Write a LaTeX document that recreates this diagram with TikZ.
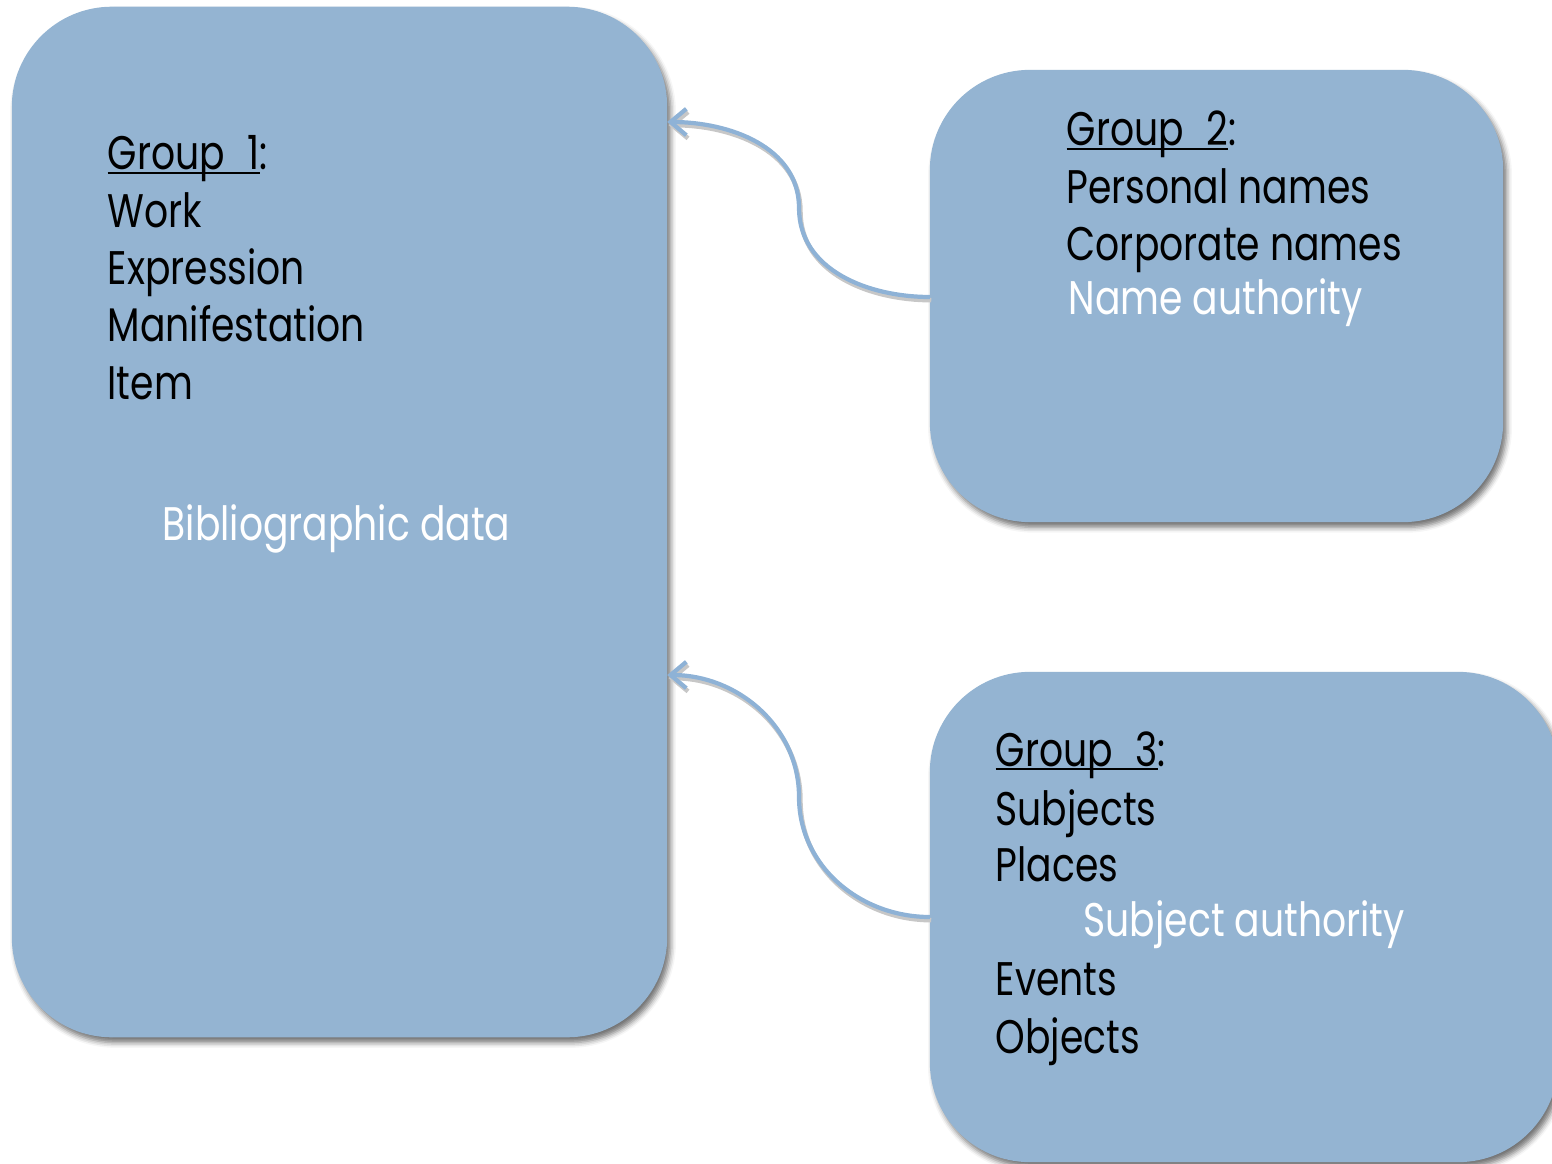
\documentclass[tikz,border=0pt]{standalone}
\usepackage{fontspec}
\setmainfont[FakeStretch=0.8]{Poppins}
\usepackage{tikz}
\usetikzlibrary{arrows.meta, positioning, shadows.blur}
\usepackage{xcolor}
\definecolor{boxblue}{RGB}{148,180,210}
\definecolor{linkblue}{RGB}{142,178,214}
\newcommand{\grouptitle}[1]{%
	\setbox0\hbox{Group\hspace{6.5pt}#1}\rlap{\rule[-1.1pt]{\wd0}{0.6pt}}\box0:}
\tikzset{%
	group box/.style={
		rectangle,
		rounded corners=1cm,
		outer sep=0pt,
		fill=boxblue,
		blur shadow={shadow xshift=1pt, shadow yshift=-1.5pt,
			shadow blur radius=1.5pt, shadow opacity=55}
	},
	entry/.style={
		anchor=base west,
		inner sep=0pt,
		font=\fontsize{13.4}{16}\selectfont
	},
	light entry/.style={
		entry,
		text=white
	},
	link/.style={
		draw=linkblue,
		line width=1.2pt,
		preaction={draw=black!22, line width=1.3pt,
			transform canvas={xshift=0.4pt, yshift=-0.9pt}},
		-{Straight Barb[length=4.5pt,width=7.5pt]}
	},
}

\begin{document}
\begin{tikzpicture}[x=0.01cm, y=-0.01cm]
	\useasboundingbox (0,0) rectangle (1552,1164);
	% Boxes
	\node[group box, minimum width=6.55cm, minimum height=10.3cm] (bib) at (339.5,522) {};
	\node[group box, minimum width=5.73cm, minimum height=4.52cm] (names) at (1216.5,296) {};
	\node[group box, minimum width=6.28cm, minimum height=4.9cm] (subjects) at (1244,917) {};
	% Group 1
	\node[entry] (g1-title) at (107,170) {\grouptitle{1}};
	\foreach \t [count=\i] in {Work,Expression,Manifestation,Item}
	{
		\node[entry] (g1-\i) at (107,170+57.3*\i) {\t};
	}
	\node[light entry] (bibdata) at (162,540) {Bibliographic data};
	% Group 2
	\node[entry] (g2-title) at (1066,146) {\grouptitle{2}};
	\foreach \t [count=\i] in {Personal names,Corporate names}
	{
		\node[entry] (g2-\i) at (1066,147+57*\i) {\t};
	}
	\node[light entry] (nameauth) at (1068,315) {Name authority};
	% Group 3
	\node[entry] (g3-title) at (995,766) {\grouptitle{3}};
	\foreach \t/\y [count=\i] in {Subjects/825,Places/881,Events/995,Objects/1053}
	{
		\node[entry] (g3-\i) at (995,\y) {\t};
	}
	\node[light entry] (subjauth) at (1083,936) {Subject authority};
	% Links to the bibliographic data
	\draw[link] (names.west |- 0,297) to[out=180,in=-90] (799,208)
		to[out=90,in=0] (bib.east |- 0,122);
	\draw[link] (subjects.west |- 0,917) to[out=180,in=-90] (799,797)
		to[out=90,in=0] (bib.east |- 0,675);
\end{tikzpicture}
\end{document}
